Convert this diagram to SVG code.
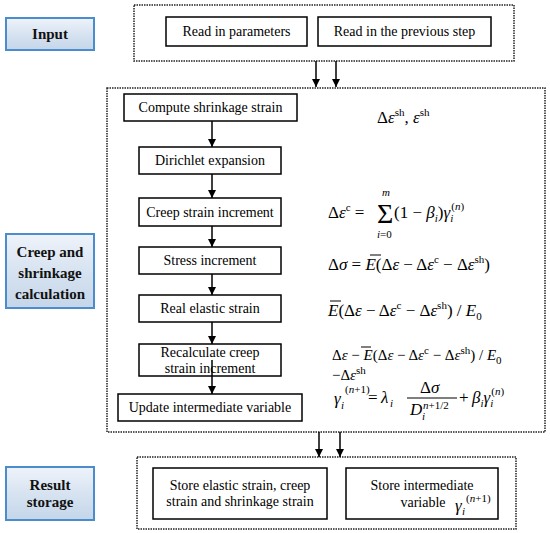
<svg xmlns="http://www.w3.org/2000/svg" width="550" height="533" viewBox="0 0 550 533" font-family="'Liberation Serif', 'Times New Roman', 'DejaVu Serif', serif">
<defs>
<linearGradient id="lg" x1="0" y1="0" x2="0" y2="1">
<stop offset="0" stop-color="#eef3fa"/>
<stop offset="0.6" stop-color="#d3e0ef"/>
<stop offset="1" stop-color="#c5d6ea"/>
</linearGradient>
<marker id="ah" viewBox="0 0 10 10" refX="10" refY="5" markerWidth="8" markerHeight="8" markerUnits="userSpaceOnUse" orient="auto">
<path d="M0,0 L10,5 L0,10 z" fill="#000"/>
</marker>
<style>
text{font-family:'Liberation Serif','Times New Roman','DejaVu Serif',serif}
.lbl{fill:url(#lg);stroke:#4a8ccc;stroke-width:2}
.lt{font-weight:bold;font-size:15px;fill:#111;text-anchor:middle}
.dot{fill:none;stroke:#222;stroke-width:1.5;stroke-dasharray:1.5 1}
.box{fill:#fff;stroke:#000;stroke-width:1.5}
.bt{font-size:14px;fill:#000;text-anchor:middle}
.f{font-size:17px;fill:#000}
.fs{font-size:15px;fill:#000}
.it{font-style:italic}
.sm{font-size:11px}
.ln{stroke:#000;stroke-width:1.5;fill:none}
.ol{stroke:#000;stroke-width:1;fill:none}
</style>
</defs>
<rect width="550" height="533" fill="#fff"/>

<g id="containers">
<rect class="dot" x="134" y="5" width="380" height="56"/>
<rect class="dot" x="107" y="88" width="438" height="344"/>
<rect class="dot" x="137" y="457" width="379" height="72"/>
</g>

<g id="label-input"><rect class="lbl" x="6" y="18" width="88" height="32"/><text class="lt" x="50" y="39">Input</text></g>
<g id="label-creep"><rect class="lbl" x="6" y="234" width="88" height="74"/><text class="lt" x="50" y="257">Creep and</text><text class="lt" x="50" y="278">shrinkage</text><text class="lt" x="50" y="299">calculation</text></g>
<g id="label-result"><rect class="lbl" x="6" y="467" width="88" height="53"/><text class="lt" x="50" y="490">Result</text><text class="lt" x="50" y="507">storage</text></g>

<g id="n-read-params"><rect class="box" x="166" y="17" width="141" height="29"/><text class="bt" x="236.5" y="36">Read in parameters</text></g>
<g id="n-read-prev"><rect class="box" x="318" y="17" width="173" height="29"/><text class="bt" x="404.5" y="36">Read in the previous step</text></g>

<g id="n-compute"><rect class="box" x="124" y="94" width="173" height="27"/><text class="bt" x="210.5" y="112">Compute shrinkage strain</text></g>
<g id="n-dirichlet"><rect class="box" x="139" y="147" width="142" height="27"/><text class="bt" x="210" y="165">Dirichlet expansion</text></g>
<g id="n-creep"><rect class="box" x="139" y="198" width="142" height="28"/><text class="bt" x="210" y="217">Creep strain increment</text></g>
<g id="n-stress"><rect class="box" x="139" y="247" width="142" height="27"/><text class="bt" x="210" y="265">Stress increment</text></g>
<g id="n-real"><rect class="box" x="139" y="295" width="142" height="27"/><text class="bt" x="210" y="313">Real elastic strain</text></g>
<g id="n-recalc"><rect class="box" x="139" y="344" width="142" height="32"/><text class="bt" x="210" y="357">Recalculate creep</text><text class="bt" x="210" y="373">strain increment</text></g>
<g id="n-update"><rect class="box" x="118" y="394" width="184" height="27"/><text class="bt" x="210" y="412">Update intermediate variable</text></g>

<g id="n-store-elastic"><rect class="box" x="153" y="468" width="174" height="51"/><text class="bt" x="240" y="490">Store elastic strain, creep</text><text class="bt" x="240" y="506">strain and shrinkage strain</text></g>
<g id="n-store-inter"><rect class="box" x="346" y="468" width="152" height="51"/><text class="bt" x="422" y="490">Store intermediate</text><text class="bt" x="423" y="507">variable</text>
<text class="f it" x="455" y="511">γ</text><text class="f sm it" x="462" y="515">i</text><text class="f sm" x="466" y="502">(<tspan class="it">n</tspan>+1)</text></g>

<g id="connectors">
<line class="ln" x1="316" y1="61" x2="316" y2="87" marker-end="url(#ah)"/>
<line class="ln" x1="336" y1="61" x2="336" y2="87" marker-end="url(#ah)"/>
<line class="ln" x1="212" y1="121" x2="212" y2="147" marker-end="url(#ah)"/>
<line class="ln" x1="212" y1="174" x2="212" y2="198" marker-end="url(#ah)"/>
<line class="ln" x1="212" y1="226" x2="212" y2="247" marker-end="url(#ah)"/>
<line class="ln" x1="212" y1="274" x2="212" y2="295" marker-end="url(#ah)"/>
<line class="ln" x1="212" y1="322" x2="212" y2="344" marker-end="url(#ah)"/>
<line class="ln" x1="212" y1="360" x2="212" y2="394" marker-end="url(#ah)"/>
<line class="ln" x1="319" y1="432" x2="319" y2="457" marker-end="url(#ah)"/>
<line class="ln" x1="340" y1="432" x2="340" y2="457" marker-end="url(#ah)"/>
</g>

<g id="formulas">
<text class="f" x="377" y="123">Δ<tspan class="it">ε</tspan><tspan class="sm" dy="-7">sh</tspan><tspan dy="7">, </tspan><tspan class="it">ε</tspan><tspan class="sm" dy="-7">sh</tspan></text>

<text class="f" x="328" y="218">Δ<tspan class="it">ε</tspan><tspan class="sm" dy="-7">c</tspan><tspan dy="7"> = </tspan></text>
<text class="f" x="377" y="223" style="font-size:28px">Σ</text>
<text class="f sm it" x="382" y="196">m</text>
<text class="f sm" x="377" y="238"><tspan class="it">i</tspan>=0</text>
<text class="f" x="394" y="218">(1 − <tspan class="it">β</tspan><tspan class="sm it" dy="4">i</tspan><tspan dy="-4">)</tspan><tspan class="it">γ</tspan><tspan class="sm it" dy="4">i</tspan><tspan class="sm" dy="-12" dx="-2">(<tspan class="it">n</tspan>)</tspan></text>

<text class="f" x="328" y="270">Δ<tspan class="it">σ</tspan> = <tspan class="it">E</tspan>(Δ<tspan class="it">ε</tspan> − Δ<tspan class="it">ε</tspan><tspan class="sm" dy="-7">c</tspan><tspan dy="7"> − Δ</tspan><tspan class="it">ε</tspan><tspan class="sm" dy="-7">sh</tspan><tspan dy="7">)</tspan></text>
<line class="ol" x1="370" y1="255" x2="381" y2="255"/>

<text class="f" x="328" y="316"><tspan class="it">E</tspan>(Δ<tspan class="it">ε</tspan> − Δ<tspan class="it">ε</tspan><tspan class="sm" dy="-7">c</tspan><tspan dy="7"> − Δ</tspan><tspan class="it">ε</tspan><tspan class="sm" dy="-7">sh</tspan><tspan dy="7">) / </tspan><tspan class="it">E</tspan><tspan class="sm" dy="4">0</tspan></text>
<line class="ol" x1="330" y1="301" x2="341" y2="301"/>

<text class="fs" x="332" y="360">Δ<tspan class="it">ε</tspan> − <tspan class="it">E</tspan>(Δ<tspan class="it">ε</tspan> − Δ<tspan class="it">ε</tspan><tspan class="sm" dy="-6">c</tspan><tspan dy="6"> − Δ</tspan><tspan class="it">ε</tspan><tspan class="sm" dy="-6">sh</tspan><tspan dy="6">) / </tspan><tspan class="it">E</tspan><tspan class="sm" dy="4">0</tspan></text>
<line class="ol" x1="361" y1="347" x2="371" y2="347"/>
<text class="fs" x="332" y="380">−Δ<tspan class="it">ε</tspan><tspan class="sm" dy="-6">sh</tspan></text>

<text class="f it" x="334" y="404">γ</text>
<text class="f sm it" x="341" y="409">i</text>
<text class="f sm" x="345" y="393">(<tspan class="it">n</tspan>+1)</text>
<text class="f" x="368" y="403">=</text>
<text class="f it" x="381" y="403">λ</text>
<text class="f sm it" x="390" y="407">i</text>
<text class="f" x="420" y="393">Δ<tspan class="it">σ</tspan></text>
<line class="ol" x1="407" y1="398" x2="457" y2="398"/>
<text class="f it" x="410" y="415">D</text>
<text class="f sm it" x="422" y="420">i</text>
<text class="f sm" x="423" y="409"><tspan class="it">n</tspan>+1/2</text>
<text class="f" x="459" y="403">+</text>
<text class="f" x="472" y="403"><tspan class="it">β</tspan><tspan class="sm it" dy="4">i</tspan><tspan class="it" dy="-4">γ</tspan><tspan class="sm it" dy="4">i</tspan><tspan class="sm" dy="-12" dx="-2">(<tspan class="it">n</tspan>)</tspan></text>
</g>
</svg>
